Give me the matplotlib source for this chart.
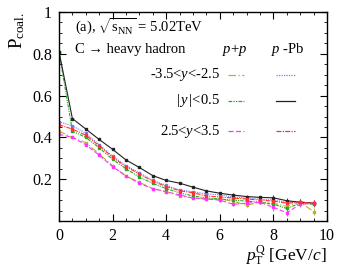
import matplotlib
matplotlib.use('Agg')
import matplotlib.pyplot as plt
import numpy as np

plt.rcParams['font.family'] = 'Liberation Serif'
plt.rcParams['mathtext.fontset'] = 'custom'
plt.rcParams['mathtext.rm'] = 'Liberation Serif'
plt.rcParams['mathtext.it'] = 'Liberation Serif:italic'

# pT bins (GeV/c)
pt = np.arange(0, 10, 0.5)

# p+p
pp_fwd = [0.43, 0.40, 0.375, 0.32, 0.265, 0.215, 0.185, 0.155, 0.14, 0.12,
          0.11, 0.105, 0.105, 0.095, 0.075, 0.09, 0.085, 0.07, 0.09, 0.045]
pp_mid = [0.81, 0.43, 0.40, 0.35, 0.295, 0.25, 0.21, 0.18, 0.155, 0.135,
          0.12, 0.11, 0.105, 0.10, 0.095, 0.09, 0.08, 0.06, 0.085, 0.08]
pp_bwd = [0.415, 0.40, 0.365, 0.315, 0.26, 0.215, 0.18, 0.155, 0.14, 0.125,
          0.11, 0.105, 0.10, 0.08, 0.085, 0.09, 0.065, 0.04, 0.08, 0.085]
# p-Pb
pa_fwd = [0.475, 0.455, 0.42, 0.365, 0.31, 0.265, 0.23, 0.195, 0.17, 0.148,
          0.14, 0.13, 0.125, 0.115, 0.11, 0.105, 0.10, 0.09, 0.09, 0.085]
pa_mid = [0.81, 0.49, 0.44, 0.39, 0.343, 0.292, 0.256, 0.217, 0.194, 0.181,
          0.162, 0.144, 0.133, 0.124, 0.117, 0.113, 0.111, 0.097, 0.09, 0.086]
pa_bwd = [0.46, 0.44, 0.41, 0.36, 0.305, 0.26, 0.225, 0.19, 0.165, 0.145,
          0.135, 0.12, 0.115, 0.11, 0.105, 0.10, 0.095, 0.085, 0.09, 0.085]

# rough stat errors
err = [0.004] * 12 + [0.008] * 4 + [0.015] * 4

series = [
    (pp_fwd, '#b8b030', (0, (6, 2, 1, 2))),
    (pa_fwd, '#7777ff', (0, (1, 1))),
    (pp_mid, '#22aa22', (0, (3, 1, 1, 1, 1, 1))),
    (pa_mid, '#222222', '-'),
    (pp_bwd, '#ff33ff', (0, (4, 2))),
    (pa_bwd, '#ff3030', (0, (4, 1, 1, 1))),
]

fig = plt.figure(figsize=(3.47, 2.75), dpi=100)
ax = fig.add_axes([59/347, 1 - 221/275, 268/347, 209/275])

for y, c, ls in series:
    ax.errorbar(pt, y, yerr=err, color=c, ls=ls, lw=0.8, marker='s', ms=1.8,
                elinewidth=0.6, capsize=0)

ax.set_xlim(0, 10)
ax.set_ylim(0, 1)
ax.set_xticks([0, 2, 4, 6, 8, 10])
ax.set_xticks(np.arange(0, 10, 0.5), minor=True)
ax.set_yticks([0.2, 0.4, 0.6, 0.8, 1.0])
ax.set_yticklabels(['0.2', '0.4', '0.6', '0.8', '1'])
ax.set_yticks(np.arange(0, 1, 0.05), minor=True)
ax.tick_params(which='both', direction='in', top=True, right=True, labelsize=11.5)
ax.tick_params(which='major', length=5, width=0.8, pad=5)
ax.tick_params(which='minor', length=2.5, width=0.6)
for s in ax.spines.values():
    s.set_linewidth(1.0)

ax.text(-0.155, 1.0, r'P$_{\rm coal.}$', transform=ax.transAxes, rotation=90,
        ha='center', va='top', fontsize=13.5)
ax.text(1.0, -0.11, r'$p_{\rm T}^{\rm Q}$ [GeV/$c$]', transform=ax.transAxes,
        ha='right', va='top', fontsize=12.5)

# legend block
fs = 10.5
ax.text(0.06, 0.93, r'(a), $\sqrt{\rm s_{NN}}$ = 5.02TeV', transform=ax.transAxes,
        ha='left', va='center', fontsize=fs)
ax.text(0.06, 0.82, 'C \u2192 heavy hadron', transform=ax.transAxes,
        ha='left', va='center', fontsize=fs)
ax.text(0.61, 0.82, r'$p$+$p$', transform=ax.transAxes, ha='left', va='center', fontsize=fs)
ax.text(0.79, 0.82, r'$p$ -Pb', transform=ax.transAxes, ha='left', va='center', fontsize=fs)

rows = [r'-3.5<$y$<-2.5', r'|$\,y\,$|<0.5', r'2.5<$y$<3.5']
row_y = [0.70, 0.575, 0.43]
for i, (lab, yy) in enumerate(zip(rows, row_y)):
    ax.text(0.60, yy, lab, transform=ax.transAxes, ha='right', va='center', fontsize=fs)
    _, c1, ls1 = series[2 * i]
    _, c2, ls2 = series[2 * i + 1]
    ax.plot([0.63, 0.69], [yy, yy], color=c1, ls=ls1, lw=0.9, transform=ax.transAxes)
    ax.plot([0.81, 0.88], [yy, yy], color=c2, ls=ls2, lw=0.9, transform=ax.transAxes)

fig.savefig('out.png', dpi=100)
